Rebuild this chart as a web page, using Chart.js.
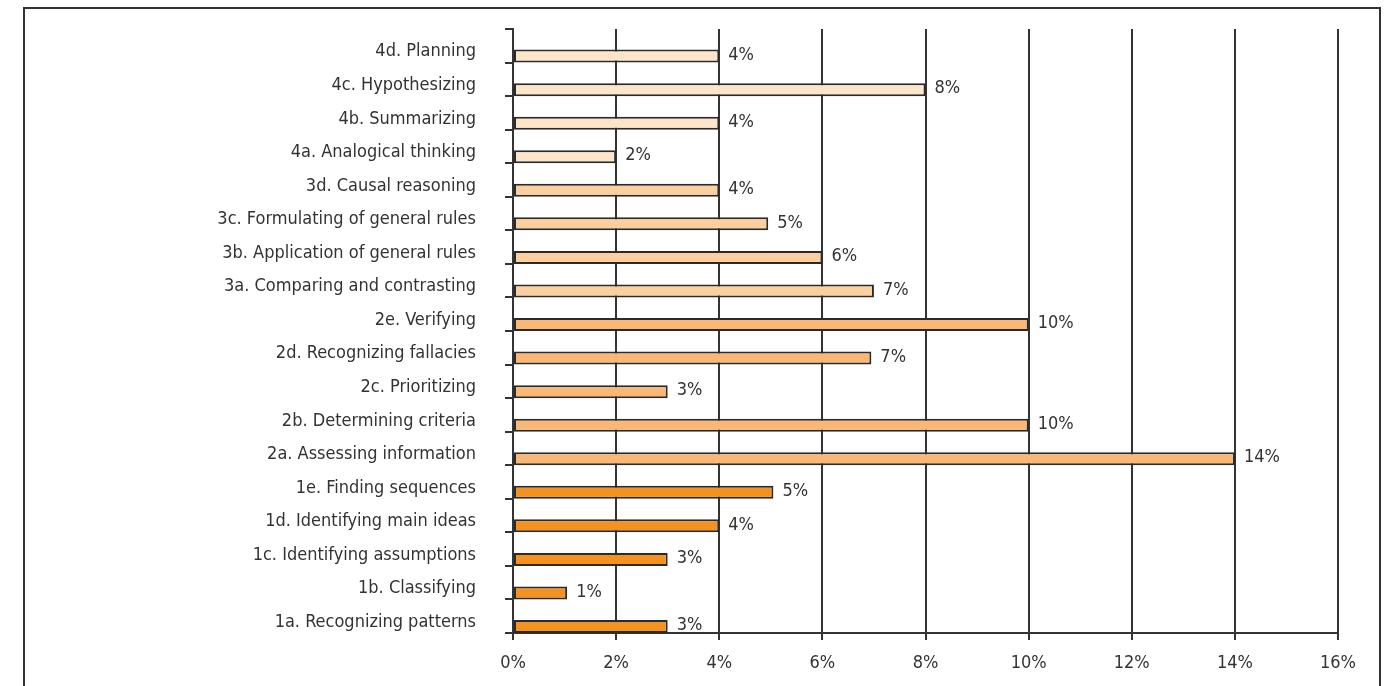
<!DOCTYPE html>
<html>
<head>
<meta charset="utf-8">
<script src="https://cdn.jsdelivr.net/npm/chart.js@4"></script>
<style>
    html, body { margin: 0; padding: 0; background: #fff; }
    #wrap { position: relative; width: 1392px; height: 686px; overflow: hidden; }
    #frame {
        position: absolute; left: 23px; top: 7px; width: 1354px; height: 700px;
        border: 2px solid #333; pointer-events: none;
    }
</style>
</head>
<body>
<div id="wrap">
    <div id="frame"></div>
    <canvas id="chart" width="1392" height="686"></canvas>
</div>
<script>
// Категории (сверху вниз)
const categories = [
    "4d. Planning",
    "4c. Hypothesizing",
    "4b. Summarizing",
    "4a. Analogical thinking",
    "3d. Causal reasoning",
    "3c. Formulating of general rules",
    "3b. Application of general rules",
    "3a. Comparing and contrasting",
    "2e. Verifying",
    "2d. Recognizing fallacies",
    "2c. Prioritizing",
    "2b. Determining criteria",
    "2a. Assessing information",
    "1e. Finding sequences",
    "1d. Identifying main ideas",
    "1c. Identifying assumptions",
    "1b. Classifying",
    "1a. Recognizing patterns",
];

// Доли, %
const values = [4.0, 8.0, 4.0, 2.0, 4.0, 4.95, 6.0, 7.0, 10.0, 6.95, 3.0, 10.0, 14.0, 5.05, 4.0, 3.0, 1.05, 3.0];

// Подписи к столбцам
const valueLabels = ["4%", "8%", "4%", "2%", "4%", "5%", "6%", "7%", "10%", "7%", "3%", "10%", "14%", "5%", "4%", "3%", "1%", "3%"];

// Цвет по группе навыков
const groupColors = { "1": "#f39121", "2": "#fbb776", "3": "#fccf9f", "4": "#fde5ca" };
const barColors = categories.map((c) => groupColors[c.charAt(0)]);

const xTicks = [0, 2, 4, 6, 8, 10, 12, 14, 16];

const FONT = "'Liberation Sans Narrow', 'DejaVu Sans Condensed', sans-serif";
const TEXT = "#333";

// Подписи значений справа от столбцов
const valueLabelPlugin = {
    id: "valueLabels",
    afterDatasetsDraw(chart) {
        const ctx = chart.ctx;
        const meta = chart.getDatasetMeta(1);
        ctx.save();
        ctx.font = "18px " + FONT;
        ctx.fillStyle = TEXT;
        ctx.textAlign = "left";
        ctx.textBaseline = "middle";
        meta.data.forEach((bar, i) => {
            ctx.fillText(valueLabels[i], bar.x + 9, bar.y - 1);
        });
        ctx.restore();
    },
};

new Chart(document.getElementById("chart"), {
    type: "bar",
    data: {
        labels: categories,
        datasets: [
            {
                // пустой ряд, чтобы столбец сидел в нижней части полосы
                data: categories.map(() => null),
                backgroundColor: "transparent",
                borderWidth: 0,
            },
            {
                data: values,
                backgroundColor: barColors,
                borderColor: "#2a2a2a",
                borderWidth: 2,
                borderSkipped: false,
            },
        ],
    },
    options: {
        indexAxis: "y",
        responsive: false,
        animation: false,
        categoryPercentage: 1.23,
        barPercentage: 0.63,
        layout: { padding: { left: 0, right: 54, top: 29, bottom: 0 } },
        plugins: {
            legend: { display: false },
            tooltip: { enabled: false },
        },
        scales: {
            x: {
                min: 0,
                max: 16,
                afterBuildTicks: (scale) => {
                    scale.ticks = xTicks.map((v) => ({ value: v }));
                },
                afterFit: (scale) => {
                    scale.height = 53;
                },
                ticks: {
                    padding: 13,
                    color: TEXT,
                    font: { family: FONT, size: 18 },
                    callback: (v) => v + "%",
                },
                grid: {
                    color: "#333",
                    lineWidth: 2,
                    tickLength: 7,
                },
                border: { color: "#333", width: 2 },
            },
            y: {
                afterFit: (scale) => {
                    scale.width = 513;
                    scale.paddingTop = 0;
                    scale.paddingBottom = 0;
                },
                ticks: {
                    padding: 29,
                    labelOffset: 6,
                    color: TEXT,
                    font: { family: FONT, size: 18 },
                },
                grid: {
                    drawOnChartArea: false,
                    color: "#333",
                    lineWidth: 2,
                    tickLength: 8,
                },
                border: { color: "#333", width: 2 },
            },
        },
    },
    plugins: [valueLabelPlugin],
});
</script>
</body>
</html>
